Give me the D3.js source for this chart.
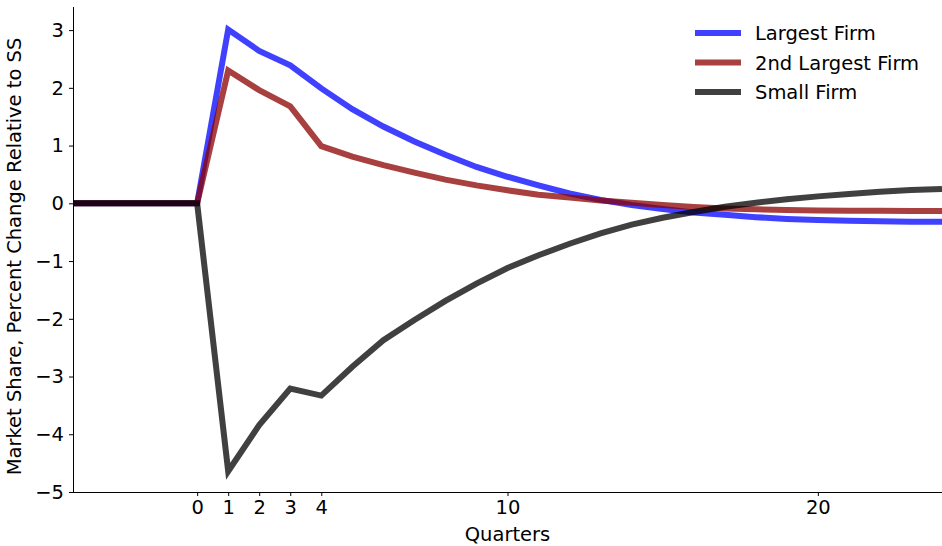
<!DOCTYPE html>
<html>
<head>
<meta charset="utf-8">
<script src="https://cdn.jsdelivr.net/npm/d3@7"></script>
<style>
  body { margin: 0; background: #fff; }
  text { font-family: "DejaVu Sans", sans-serif; fill: #000; }
  .axis path, .axis line { stroke: #000; stroke-width: 1; }
  .axis text { font-size: 19.5px; }
</style>
</head>
<body>
<div class="chart"></div>
<script>
var svgWidth = 942;
var svgHeight = 546;

var margin = { top: 7, right: 0, bottom: 54, left: 73 };
var width = svgWidth - margin.left - margin.right;
var height = svgHeight - margin.top - margin.bottom;

// quarters -4 .. 24
var quarters = [-4, -3, -2, -1, 0, 1, 2, 3, 4, 5, 6, 7, 8, 9, 10, 11, 12, 13, 14,
  15, 16, 17, 18, 19, 20, 21, 22, 23, 24];

var largestFirm = [0, 0, 0, 0, 0, 3.01, 2.64, 2.39, 1.99, 1.63, 1.33, 1.07, 0.84, 0.63,
  0.46, 0.31, 0.17, 0.06, -0.03, -0.1, -0.16, -0.2, -0.24, -0.27, -0.29, -0.3, -0.31, -0.32, -0.32];

var secondFirm = [0, 0, 0, 0, 0, 2.30, 1.96, 1.68, 0.99, 0.81, 0.66, 0.53, 0.41, 0.31,
  0.225, 0.15, 0.10, 0.05, 0.01, -0.03, -0.065, -0.09, -0.105, -0.115, -0.125, -0.13, -0.13, -0.135, -0.135];

var smallFirm = [0, 0, 0, 0, 0, -4.64, -3.84, -3.21, -3.33, -2.83, -2.37, -2.02, -1.69, -1.39,
  -1.12, -0.9, -0.7, -0.52, -0.37, -0.25, -0.15, -0.06, 0.01, 0.07, 0.12, 0.16, 0.2, 0.23, 0.25];

var seriesNames = ["Largest Firm", "2nd Largest Firm", "Small Firm"];
var seriesColors = ["blue", "darkred", "black"];

var xTicks = [0, 1, 2, 3, 4, 10, 20];
var yTicks = [-5, -4, -3, -2, -1, 0, 1, 2, 3];

var svg = d3.select(".chart")
  .append("svg")
  .attr("width", svgWidth)
  .attr("height", svgHeight);

var chart = svg.append("g")
  .attr("transform", "translate(" + margin.left + "," + margin.top + ")");

var xScale = d3.scaleLinear().domain([-4, 24]).range([0, width]);
var yScale = d3.scaleLinear().domain([-5, 3.4]).range([height, 0]);

var bottomAxis = d3.axisBottom(xScale).tickValues(xTicks).tickSize(4).tickPadding(4)
  .tickFormat(d3.format("d"));
var leftAxis = d3.axisLeft(yScale).tickValues(yTicks).tickSize(4).tickPadding(5)
  .tickFormat(function(d) { return d < 0 ? "\u2212" + Math.abs(d) : d; });

chart.append("defs").append("clipPath").attr("id", "plotclip")
  .append("rect").attr("width", width).attr("height", height);

var line = d3.line()
  .x(function(d) { return xScale(d[0]); })
  .y(function(d) { return yScale(d[1]); });

var allSeries = [largestFirm, secondFirm, smallFirm];

allSeries.forEach(function(vals, i) {
  var pts = quarters.map(function(q, j) { return [q, vals[j]]; });
  chart.append("path")
    .datum(pts)
    .attr("clip-path", "url(#plotclip)")
    .attr("fill", "none")
    .attr("stroke", seriesColors[i])
    .attr("stroke-opacity", 0.75)
    .attr("stroke-width", 6)
    .attr("d", line);
});

chart.append("g")
  .attr("class", "axis x-axis")
  .attr("transform", "translate(0," + height + ")")
  .call(bottomAxis)
  .call(function(g) { g.select(".domain").attr("d", "M0,0.5H" + width); });

chart.append("g")
  .attr("class", "axis y-axis")
  .call(leftAxis)
  .call(function(g) { g.select(".domain").attr("d", "M0.5," + height + "V0"); });

chart.append("text")
  .attr("transform", "rotate(-90)")
  .attr("x", -height / 2 - 7)
  .attr("y", -52)
  .attr("text-anchor", "middle")
  .style("font-size", "19.5px")
  .text("Market Share, Percent Change Relative to SS");

chart.append("text")
  .attr("x", xScale(10))
  .attr("y", height + 49)
  .attr("text-anchor", "middle")
  .style("font-size", "19.5px")
  .text("Quarters");

// legend
var legend = chart.append("g")
  .attr("transform", "translate(" + (695 - margin.left) + "," + (33 - margin.top) + ")");

seriesNames.forEach(function(name, i) {
  var row = legend.append("g").attr("transform", "translate(0," + (i * 29.5) + ")");
  row.append("line")
    .attr("x1", 0).attr("x2", 46)
    .attr("stroke", seriesColors[i])
    .attr("stroke-opacity", 0.75)
    .attr("stroke-width", 6);
  row.append("text")
    .attr("x", 60)
    .attr("y", 7)
    .style("font-size", "19.5px")
    .text(name);
});
</script>
</body>
</html>
